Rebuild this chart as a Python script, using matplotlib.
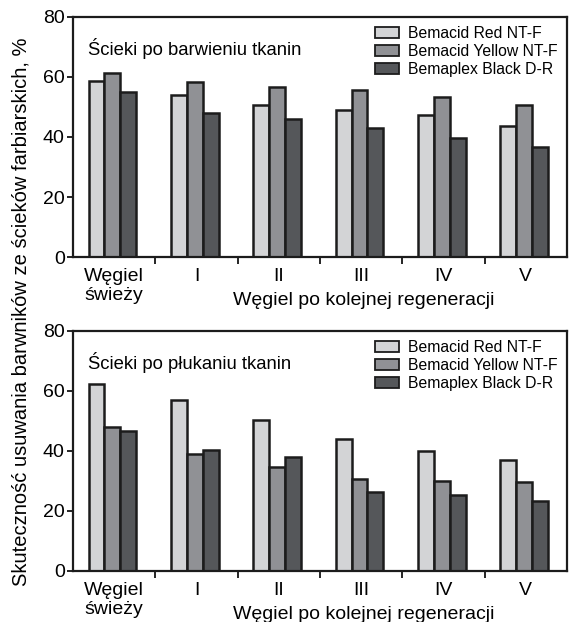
import numpy as np
import matplotlib
matplotlib.use("Agg")
import matplotlib.pyplot as plt
from matplotlib.transforms import blended_transform_factory

plt.rcParams['font.family'] = ['Liberation Sans', 'DejaVu Sans']

# data
groups = ["Węgiel\nświeży", "I", "II", "III", "IV", "V"]
series = ["Bemacid Red NT-F", "Bemacid Yellow NT-F", "Bemaplex Black D-R"]

# dyeing wastewater
dye_red = [58.8, 54.1, 50.8, 49.1, 47.4, 43.8]
dye_yellow = [61.3, 58.3, 56.6, 55.6, 53.3, 50.7]
dye_black = [55.1, 47.9, 46.0, 42.9, 39.6, 36.8]

# rinsing wastewater
rinse_red = [62.2, 57.1, 50.2, 44.1, 39.9, 36.9]
rinse_yellow = [48.0, 39.1, 34.8, 30.8, 30.1, 29.7]
rinse_black = [46.6, 40.2, 38.0, 26.4, 25.2, 23.2]

colors = ["#d3d4d6", "#909195", "#55575a"]
edge = "#1c1c1c"


def draw_panel(ax, values, note):
    x = np.arange(len(groups))
    w = 0.194
    for i, (vals, c) in enumerate(zip(values, colors)):
        ax.bar(x - 0.02 + (i - 1) * w, vals, w, color=c, edgecolor=edge,
               linewidth=1.8, label=series[i], zorder=2)

    ax.set_xlim(-0.5, 5.5)
    ax.set_ylim(0, 80)
    ax.set_yticks([0, 20, 40, 60, 80])
    ax.tick_params(axis='y', direction='out', length=4, width=1.2,
                   labelsize=14, pad=2)

    # group borders as ticks, group names as minor labels
    ax.set_xticks(np.arange(0.5, 5.5, 1.0))
    ax.set_xticklabels([])
    ax.tick_params(axis='x', which='major', direction='out', length=5, width=1.2)
    ax.set_xticks(x, minor=True)
    ax.set_xticklabels(groups, minor=True, fontsize=14, linespacing=1.12)
    ax.tick_params(axis='x', which='minor', length=0, pad=8)

    for s in ax.spines.values():
        s.set_linewidth(1.6)
        s.set_color(edge)

    trans = blended_transform_factory(ax.transData, ax.transAxes)
    ax.text(3.03, -0.2, "Węgiel po kolejnej regeneracji", transform=trans,
            ha='center', va='baseline', fontsize=14)

    ax.text(0.03, 0.87, note, transform=ax.transAxes, ha='left',
            va='center', fontsize=13.3)

    leg = ax.legend(loc='upper left', bbox_to_anchor=(0.611, 0.964),
                    frameon=False, fontsize=11.3, handlelength=1.53,
                    handleheight=0.72, handletextpad=0.57, labelspacing=0.2,
                    borderaxespad=0, borderpad=0)
    for h in leg.legend_handles:
        h.set_linewidth(1.3)


fig = plt.figure(figsize=(5.7, 6.22), dpi=100)
ax1 = fig.add_axes([0.128, 0.5868, 0.8667, 0.3859])
ax2 = fig.add_axes([0.128, 0.082, 0.8667, 0.3859])

draw_panel(ax1, [dye_red, dye_yellow, dye_black], "Ścieki po barwieniu tkanin")
draw_panel(ax2, [rinse_red, rinse_yellow, rinse_black], "Ścieki po płukaniu tkanin")

fig.text(0.037, 0.498, "Skuteczność usuwania barwników ze ścieków farbiarskich, %",
         rotation=90, ha='center', va='center', fontsize=14.5)

fig.savefig("out.png", dpi=100)
